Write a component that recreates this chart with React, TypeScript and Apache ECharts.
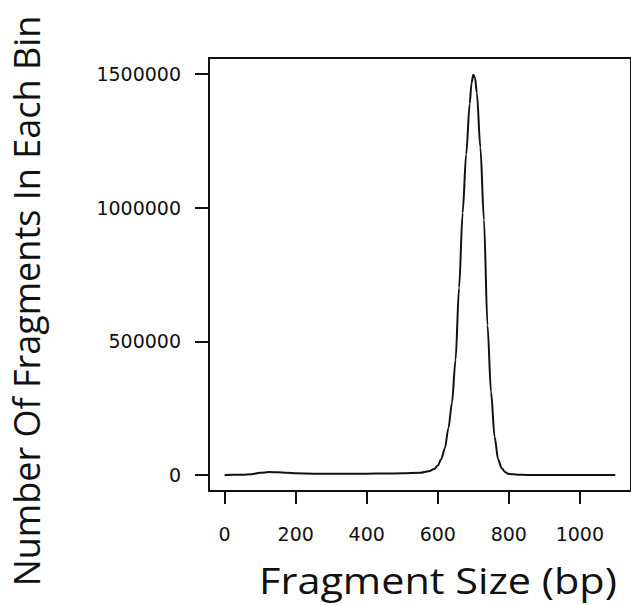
import React, { useEffect, useRef } from "react";
import * as echarts from "echarts";

const fragmentSize = [
  0, 25, 50, 75, 100, 125, 150, 175, 200, 250, 300, 350, 400, 450, 500, 550,
  575, 590, 600, 610, 620, 630, 640, 650, 660, 670, 680, 690, 695, 700, 705,
  710, 720, 730, 740, 750, 760, 770, 780, 790, 800, 825, 850, 900, 950, 1000,
  1050, 1100,
];
const fragmentCount = [
  0, 500, 1000, 3000, 8000, 11000, 10000, 8000, 6000, 5000, 5000, 5000, 5000,
  5500, 6000, 8000, 14000, 22000, 35000, 60000, 100000, 175000, 270000, 430000,
  700000, 980000, 1200000, 1390000, 1465000, 1497000, 1485000, 1430000, 1225000,
  955000, 560000, 310000, 143000, 58000, 25000, 10000, 4000, 800, 300, 100, 0,
  0, 0, 0,
];
const xTicks = [0, 200, 400, 600, 800, 1000];
const yTicks = [0, 500000, 1000000, 1500000];
const xTitle = "Fragment Size (bp)";
const yTitle = "Number Of Fragments In Each Bin";

export default function App() {
  const ref = useRef<HTMLDivElement>(null);
  useEffect(() => {
    if (!ref.current) return;
    const chart = echarts.init(ref.current, null, { renderer: "svg" });
    const labelFont = {
      fontFamily: "DejaVu Sans",
      fontSize: 19,
      color: "#111",
    };
    chart.setOption({
      animation: false,
      backgroundColor: "#fff",
      grid: { left: 209, top: 58, width: 426, height: 433, show: true, borderColor: "#111", borderWidth: 2, backgroundColor: "transparent" },
      xAxis: {
        type: "value",
        min: -44,
        max: 1144,
        axisLine: { show: false, onZero: false },
        splitLine: { show: false },
        axisTick: { show: true, inside: false, length: 13, customValues: xTicks, lineStyle: { color: "#111", width: 2 } },
        axisLabel: { ...labelFont, margin: 33, customValues: xTicks, formatter: (v: number) => String(v) },
      },
      yAxis: {
        type: "value",
        min: -60000,
        max: 1560000,
        axisLine: { show: false, onZero: false },
        splitLine: { show: false },
        axisTick: { show: true, inside: false, length: 14, customValues: yTicks, lineStyle: { color: "#111", width: 2 } },
        axisLabel: { ...labelFont, margin: 28, customValues: yTicks, formatter: (v: number) => String(v) },
      },
      series: [
        {
          type: "line",
          data: fragmentSize.map((x, i) => [x, fragmentCount[i]]),
          showSymbol: false,
          smooth: 0.3,
          smoothMonotone: "x",
          lineStyle: { color: "#111", width: 2 },
        },
      ],
      graphic: [
        {
          type: "text",
          x: 438,
          y: 580,
          scaleX: 1.15,
          style: {
            text: xTitle,
            fontFamily: "Open Sans",
            fontSize: 36,
            fill: "#111",
            textAlign: "center",
            textVerticalAlign: "middle",
          },
        },
        {
          type: "text",
          x: 26,
          y: 301,
          rotation: Math.PI / 2,
          style: {
            text: yTitle,
            fontFamily: "Open Sans",
            fontSize: 36,
            fill: "#111",
            textAlign: "center",
            textVerticalAlign: "middle",
          },
        },
      ],
    });
    return () => chart.dispose();
  }, []);
  return <div ref={ref} style={{ position: "fixed", left: 0, top: 0, width: 631, height: 605 }} />;
}
